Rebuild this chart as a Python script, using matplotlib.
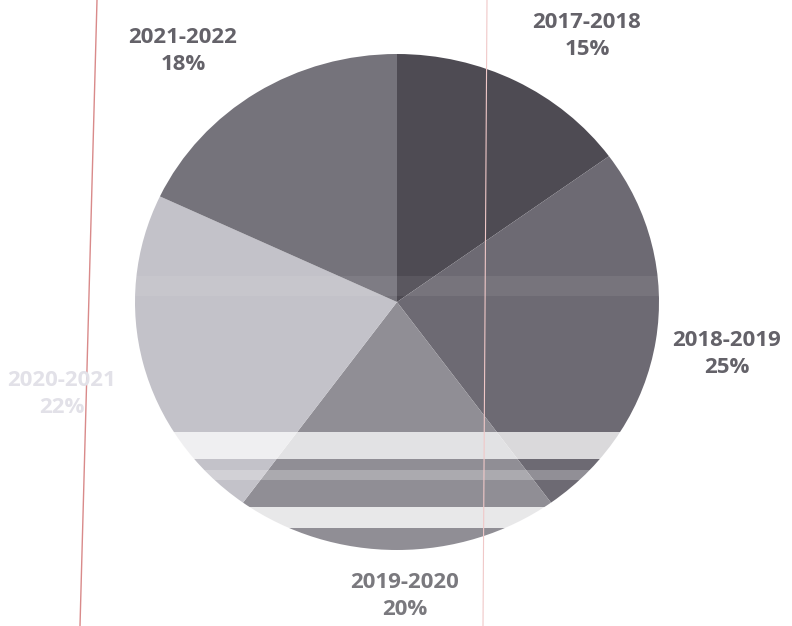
import matplotlib.pyplot as plt

years = ['2017-2018', '2018-2019', '2019-2020', '2020-2021', '2021-2022']
shares = [15, 25, 20, 22, 18]
slice_colors = ['#4e4b53', '#6d6a73', '#908e95', '#c3c2c9', '#75737b']
label_colors = ['#646269', '#646269', '#7a797e', '#e2e1e8', '#646269']
label_pos = [(587, 36), (727, 354), (405, 596), (62, 394), (183, 51)]

# the scanned pie is a bit wider than tall
cx, cy, rx, ry = 397, 302, 262, 248
k = rx / ry


def py2d(py):
    return cy + (py - cy) * k


fig = plt.figure(figsize=(7.92, 6.26), dpi=100)
ax = fig.add_axes([0, 0, 1, 1])

# y axis runs downwards (pixel style), so clockwise on screen = counterclock in data
ax.pie(shares, colors=slice_colors, startangle=-90, counterclock=True,
       center=(cx, cy), radius=rx, wedgeprops=dict(linewidth=0))
ax.set_xlim(0, 792)
ax.set_ylim(py2d(626), py2d(0))
ax.set_aspect('auto')
ax.axis('off')

# scan stripes across the lower part of the pie
for y0, y1, a in [(432, 459, 0.75), (507, 528, 0.8), (470, 480, 0.25), (276, 296, 0.07)]:
    ax.axhspan(py2d(y0), py2d(y1), color='white', alpha=a, lw=0)

for name, pct, (x, y), c in zip(years, shares, label_pos, label_colors):
    fig.text(x / 792, 1 - y / 626, f'{name}\n{pct}%', ha='center', va='center',
             fontsize=16, fontweight='bold', family='Open Sans', color=c,
             linespacing=1.35)

# page margin lines from the scan
fig.add_artist(plt.Line2D([97 / 792, 80 / 792], [1, 0], color='#d98a8a', lw=1))
fig.add_artist(plt.Line2D([487 / 792, 483 / 792], [1, 0], color='#f0c8c8', lw=0.8))

fig.savefig('out.png', dpi=100)
